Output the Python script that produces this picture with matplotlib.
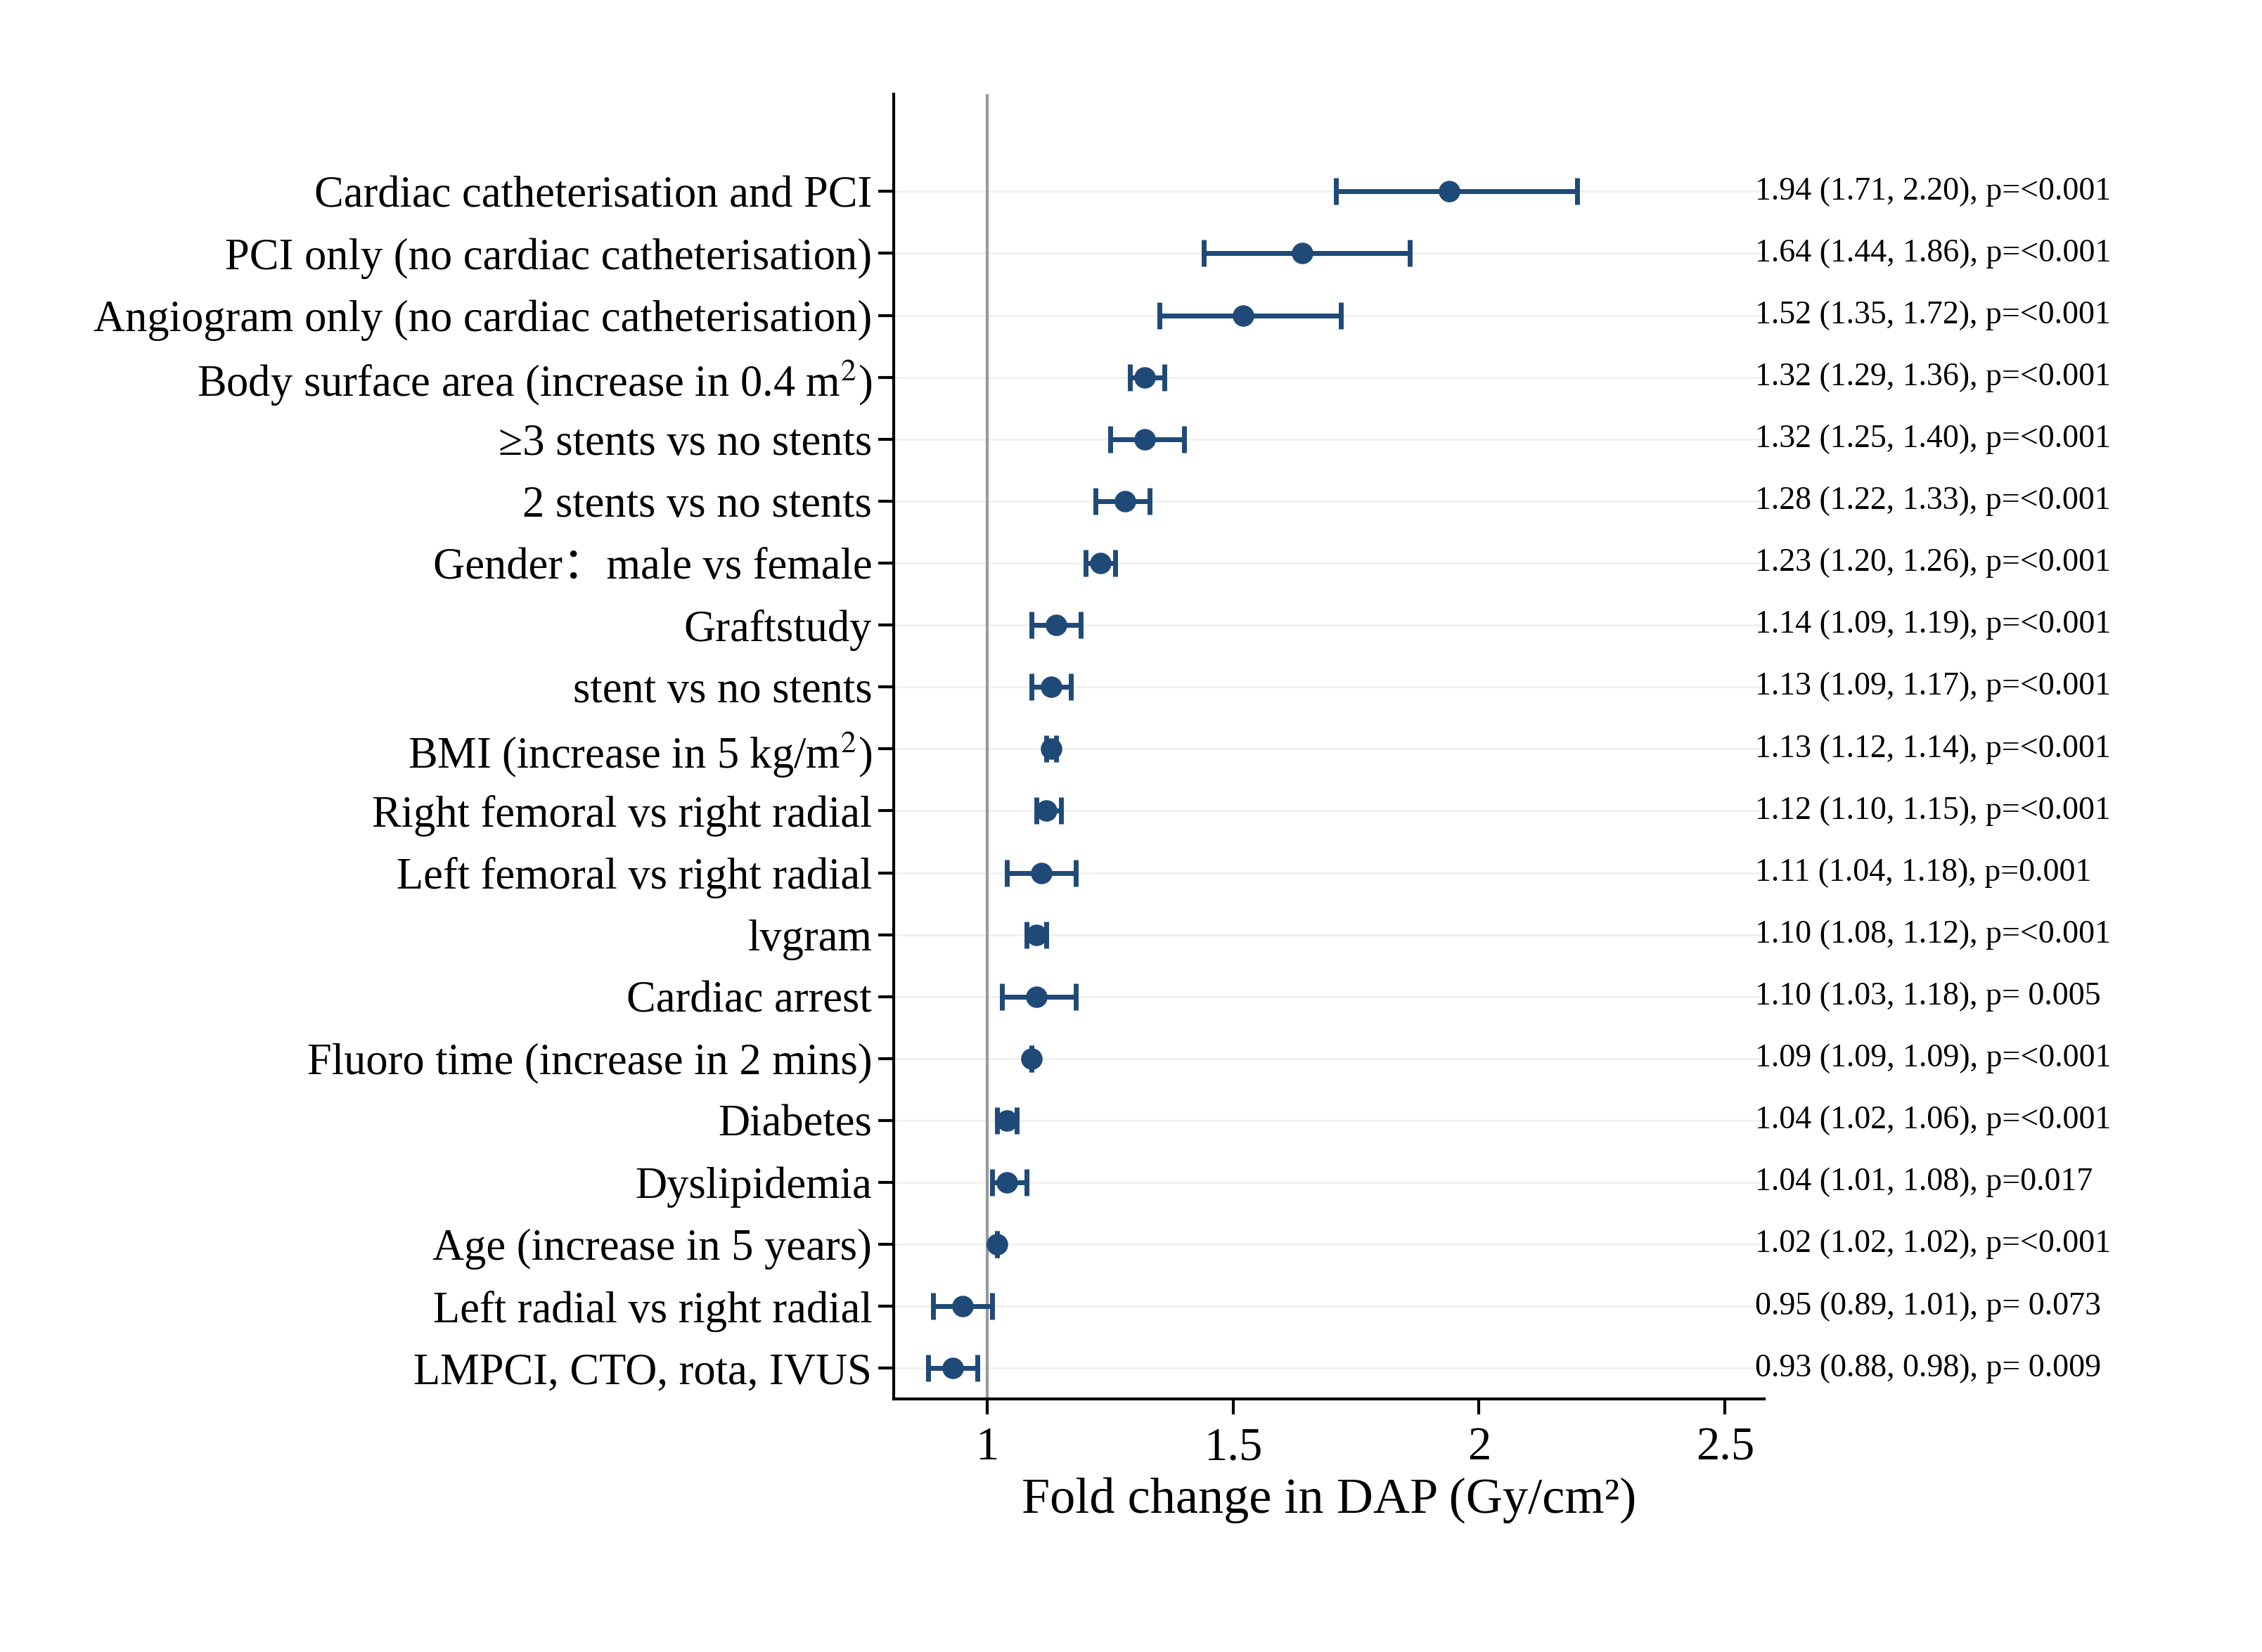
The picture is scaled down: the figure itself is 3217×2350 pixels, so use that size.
import numpy as np
import matplotlib.pyplot as plt
from matplotlib.transforms import blended_transform_factory

plt.rcParams['font.family'] = ['Liberation Serif', 'Noto Sans CJK SC', 'DejaVu Serif']
plt.rcParams['mathtext.fontset'] = 'stix'

labels = ["Cardiac catheterisation and PCI", "PCI only (no cardiac catheterisation)",
          "Angiogram only (no cardiac catheterisation)", "Body surface area (increase in 0.4 m$^2$)",
          "≥3 stents vs no stents", "2 stents vs no stents", "Gender：male vs female",
          "Graftstudy", "stent vs no stents", "BMI (increase in 5 kg/m$^2$)",
          "Right femoral vs right radial", "Left femoral vs right radial", "lvgram",
          "Cardiac arrest", "Fluoro time (increase in 2 mins)", "Diabetes",
          "Dyslipidemia", "Age (increase in 5 years)", "Left radial vs right radial",
          "LMPCI, CTO, rota, IVUS"]
est = [1.94, 1.64, 1.52, 1.32, 1.32, 1.28, 1.23, 1.14, 1.13, 1.13, 1.12, 1.11, 1.10, 1.10, 1.09, 1.04, 1.04, 1.02, 0.95, 0.93]
lo = [1.71, 1.44, 1.35, 1.29, 1.25, 1.22, 1.20, 1.09, 1.09, 1.12, 1.10, 1.04, 1.08, 1.03, 1.09, 1.02, 1.01, 1.02, 0.89, 0.88]
hi = [2.20, 1.86, 1.72, 1.36, 1.40, 1.33, 1.26, 1.19, 1.17, 1.14, 1.15, 1.18, 1.12, 1.18, 1.09, 1.06, 1.08, 1.02, 1.01, 0.98]
pvals = ["<0.001"] * 11 + ["0.001", "<0.001", " 0.005", "<0.001", "<0.001", "0.017", "<0.001", " 0.073", " 0.009"]

est = np.array(est); lo = np.array(lo); hi = np.array(hi)
n = len(labels)
y = np.arange(n)[::-1]
col = '#1f4a78'

fig = plt.figure(figsize=(16.085, 11.75), dpi=200)
ax = fig.add_axes([0.395, 0.153, 0.385, 0.79])
ax.axvline(1, color='#999999', lw=1.5, zorder=1)
for yy in y:
    ax.axhline(yy, color='#f0f0f0', lw=1, zorder=0)
ax.errorbar(est, y, xerr=[est - lo, hi - est], fmt='o', color=col, ms=10,
            elinewidth=2.5, capsize=7, capthick=2.5, zorder=3)
ax.set_xlim(0.81, 2.58)
ax.set_ylim(-0.5, n - 1 + 1.57)
ax.set_xticks([1, 1.5, 2, 2.5])
ax.set_xticklabels(['1', '1.5', '2', '2.5'])
ax.set_yticks(y)
ax.set_yticklabels(labels)
ax.tick_params(axis='y', labelsize=22.5, length=8, width=1.5, pad=3)
ax.tick_params(axis='x', labelsize=24, length=8, width=1.5, pad=6)
ax.set_xlabel("Fold change in DAP (Gy/cm²)", fontsize=26, labelpad=4)
for s in ['top', 'right']:
    ax.spines[s].set_visible(False)
for s in ['left', 'bottom']:
    ax.spines[s].set_linewidth(1.5)

tr = blended_transform_factory(fig.transFigure, ax.transData)
for i in range(n):
    txt = f"{est[i]:.2f} ({lo[i]:.2f}, {hi[i]:.2f}), p={pvals[i]}"
    ax.text(0.776, y[i], txt, transform=tr, fontsize=16.5, va='center', ha='left')

fig.savefig('out.png', dpi=200, facecolor='white')
